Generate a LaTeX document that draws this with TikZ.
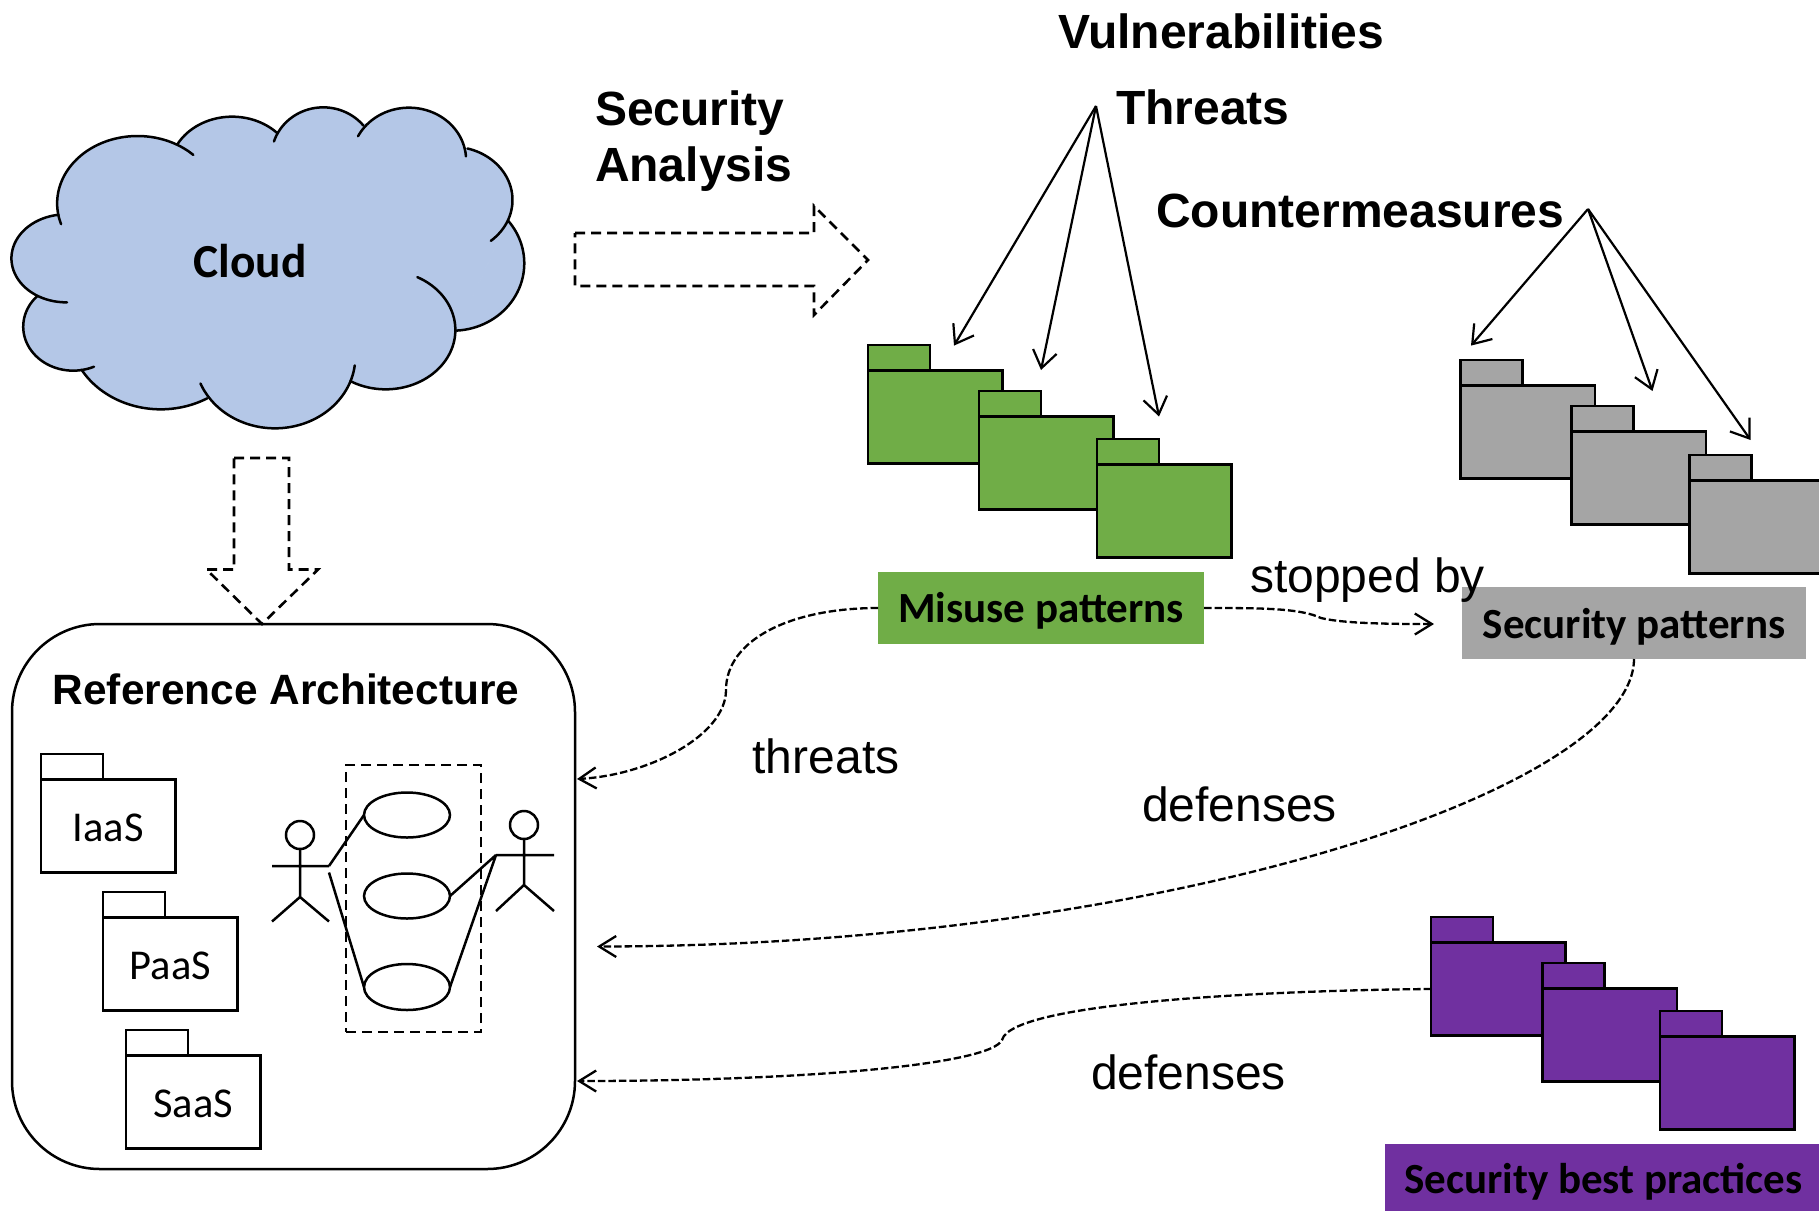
\documentclass[tikz,border=0pt]{standalone}
\usepackage{fontspec}
\setmainfont{Liberation Sans}
\newfontfamily\calib{Carlito}
\usetikzlibrary{arrows.meta,shapes.geometric}
\definecolor{cloudblue}{HTML}{B4C7E7}
\definecolor{misgreen}{HTML}{70AD47}
\definecolor{secgray}{HTML}{A5A5A5}
\definecolor{bestpurple}{HTML}{7030A0}
\tikzset{
  every node/.style={inner sep=0pt,outer sep=0pt},
  pkgpart/.style={draw=black,line width=2.5pt,rectangle,minimum width=#1},
  lbl/.style={anchor=base,font=\fontsize{48}{50}\selectfont},
  head/.style={anchor=base west,font=\bfseries\fontsize{48}{50}\selectfont},
  pkgtxt/.style={font=\calib\fontsize{42.5}{44}\selectfont,text height=61pt,text depth=31pt},
  tag/.style={rectangle,font=\calib\bfseries\fontsize{43}{45}\selectfont},
  opn/.style={line width=2.2pt,-{Straight Barb[length=17pt,width=24pt]}},
  dsh/.style={line width=2.3pt,dash pattern=on 7.5pt off 3pt,-{Straight Barb[length=17pt,width=21pt]}},
  bigdsh/.style={line width=2.6pt,dash pattern=on 10pt off 6pt},
  ln/.style={line width=2.5pt},
}
% #1 name, #2 x, #3 y of tab top, #4 fill, #5 text
\newcommand{\pkgbox}[5]{%
  \node[pkgpart=62pt,minimum height=25.5pt,fill=#4,anchor=north west] (#1-tab) at (#2,#3) {};
  \node[pkgpart=134.5pt,minimum height=93pt,fill=#4,anchor=north west,pkgtxt] (#1) at (#1-tab.south west) {#5};
}
% cx cy rx ry from to
\newcommand{\lobefill}[6]{\fill[cloudblue,draw=cloudblue,line width=1pt] plot[smooth,samples=40,domain=#5:#6] ({#1+#3*cos(\x)},{#2+#4*sin(\x)}) -- cycle;}
\newcommand{\lobeline}[6]{\draw[ln,line cap=round] plot[smooth,samples=40,domain=#5:#6] ({#1+#3*cos(\x)},{#2+#4*sin(\x)});}
\newcommand{\cloudlobes}[1]{%
  #1{385}{370}{225}{202}{162}{314}
  #1{650}{270}{175}{160}{210}{316}
  #1{905}{230}{145}{148}{198}{321}
  #1{1145}{240}{160}{157}{207}{356}
  #1{1265}{360}{170}{160}{-75}{50}
  #1{1268}{550}{200}{202}{-39}{87}
  #1{1080}{750}{195}{178}{-63}{120.5}
  #1{770}{830}{225}{215}{7}{158}
  #1{450}{750}{256}{238}{59.5}{150}
  #1{205}{740}{140}{132}{65.5}{224}
  #1{185}{535}{153}{132}{89}{262}
}
\begin{document}
\begin{tikzpicture}[x=1pt,y=-1pt]
\useasboundingbox (0,0) rectangle (1819,1211);
% cloud
\begin{scope}[shift={(0,80)},x=0.35714pt,y=-0.33333pt]
\fill[cloudblue,draw=cloudblue,line width=1pt] (165,403)--(500,190)--(780,155)--(1022,132)--(1305,205)--(1420,425)--(1278,752)--(985,903)--(580,955)--(228,868)--(105,650)--cycle;
\cloudlobes{\lobefill}
\cloudlobes{\lobeline}
\end{scope}
\node[anchor=base,font=\calib\bfseries\fontsize{47.4}{50}\selectfont] (cloudlabel) at (250,277) {Cloud};
% big dashed arrows
\draw[bigdsh] (575,233)--(814,233)--(814,206)--(868,260)--(814,315)--(814,286)--(575,286)--cycle;
\draw[bigdsh] (234,458)--(289,458)--(289,569.5)--(318,569.5)--(262,624)--(206.5,569.5)--(234,569.5)--cycle;
% reference architecture
\node[draw,line width=2.5pt,rectangle,rounded corners=88pt,minimum width=563pt,minimum height=545pt] (ra) at (293.5,896.5) {};
\node[head,anchor=base,font=\bfseries\fontsize{42.4}{44}\selectfont] (ralabel) at (286,704) {Reference Architecture};
\pkgbox{iaas}{41}{754}{white}{IaaS}
\pkgbox{paas}{103}{892}{white}{PaaS}
\pkgbox{saas}{126}{1030}{white}{SaaS}
\node[draw,line width=2.5pt,rectangle,dash pattern=on 10pt off 6pt,minimum width=135pt,minimum height=267pt] (sys) at (413.5,898.5) {};
\node[draw,ln,ellipse,fill=white,minimum width=86pt,minimum height=45pt] (uc1) at (407,815) {};
\node[draw,ln,ellipse,fill=white,minimum width=86pt,minimum height=45pt] (uc2) at (407,896) {};
\node[draw,ln,ellipse,fill=white,minimum width=86pt,minimum height=46pt] (uc3) at (407,987) {};
% left actor
\node[draw,ln,circle,minimum size=28pt] (hl) at (300,835) {};
\coordinate (hlw) at (272,866); \coordinate (hle) at (329,866); \coordinate (hlb) at (300,897);
\coordinate (hll) at (272,921.5); \coordinate (hlr) at (329,921.5); \coordinate (hla) at (329,872.5);
\draw[ln] (hl.south)--(hlb) (hlw)--(hle) (hll)--(hlb)--(hlr);
% right actor
\node[draw,ln,circle,minimum size=28pt] (hr) at (524,825) {};
\coordinate (hrw) at (496,855); \coordinate (hre) at (554,855); \coordinate (hrb) at (524,885);
\coordinate (hrl) at (496,911); \coordinate (hrr) at (554,911);
\draw[ln] (hr.south)--(hrb) (hrw)--(hre) (hrl)--(hrb)--(hrr);
\draw[ln] (hle)--(uc1.west) (hla)--(uc3.west) (hrw)--(uc2.east) (hrw)--(uc3.east);
% headings
\node[head] (vuln) at (1058,48) {Vulnerabilities};
\node[head] (threats) at (1116,124) {Threats};
\node[head] (counter) at (1156,227) {Countermeasures};
\node[head] (secana1) at (595,125) {Security};
\node[head] (secana2) at (595,181) {Analysis};
% packages
\pkgbox{g1}{868}{345}{misgreen}{}
\pkgbox{g2}{979}{391}{misgreen}{}
\pkgbox{g3}{1097}{439}{misgreen}{}
\pkgbox{s1}{1460.5}{360}{secgray}{}
\pkgbox{s2}{1571.5}{406}{secgray}{}
\pkgbox{s3}{1689.5}{455}{secgray}{}
\pkgbox{p1}{1431}{917}{bestpurple}{}
\pkgbox{p2}{1542.5}{963}{bestpurple}{}
\pkgbox{p3}{1660}{1011}{bestpurple}{}
% arrows from headings
\coordinate (thr) at (1096,106);
\coordinate (cnt) at (1588,209);
\coordinate (tg1) at (954,345.6); \coordinate (tg2) at (1041,370); \coordinate (tg3) at (1159,416.5);
\coordinate (ts1) at (1471,345.6); \coordinate (ts2) at (1652.5,391); \coordinate (ts3) at (1750.6,440);
\draw[opn] (thr)--(tg1);
\draw[opn] (thr)--(tg2);
\draw[opn] (thr)--(tg3);
\draw[opn] (cnt)--(ts1);
\draw[opn] (cnt)--(ts2);
\draw[opn] (cnt)--(ts3);
% tags
\node[tag,fill=misgreen,minimum width=326pt,minimum height=72pt,text height=50pt,text depth=22pt] (misuse) at (1041,608) {Misuse patterns};
\node[tag,fill=secgray,minimum width=343.5pt,minimum height=72pt,text height=51pt,text depth=21pt] (secpat) at (1634,623) {Security patterns};
\node[tag,fill=bestpurple,minimum width=437pt,minimum height=67pt,text height=49pt,text depth=18pt] (best) at (1603.5,1177.5) {Security best practices};
% labels
\node[lbl] (stopped) at (1367.5,592) {stopped by};
\node[lbl] (lthreats) at (826,773) {threats};
\node[lbl] (ldef1) at (1239.5,821) {defenses};
\node[lbl] (ldef2) at (1188.5,1089) {defenses};
% dashed connectors
\coordinate (tipa) at (577,779);
\coordinate (tipb) at (597,946.5);
\coordinate (tipc) at (577,1081);
\coordinate (tipd) at (1434,624);
\coordinate (mida) at (726,690);
\coordinate (midd) at (1321,618);
\coordinate (midc) at (1002,1040);
\draw[dsh] (misuse.west) .. controls (790,608) and (726,640) .. (mida) .. controls (726,735) and (650,775) .. (tipa);
\draw[dsh] (misuse.east) .. controls (1260,608) and (1300,608) .. (midd) .. controls (1345,624) and (1400,624) .. (tipd);
\draw[dsh] (secpat.south) .. controls (1633,790) and (1160,946) .. (tipb);
\draw[dsh] (p1.west) .. controls (1300,990) and (1012,1000) .. (midc) .. controls (990,1065) and (800,1081) .. (tipc);
\end{tikzpicture}
\end{document}
